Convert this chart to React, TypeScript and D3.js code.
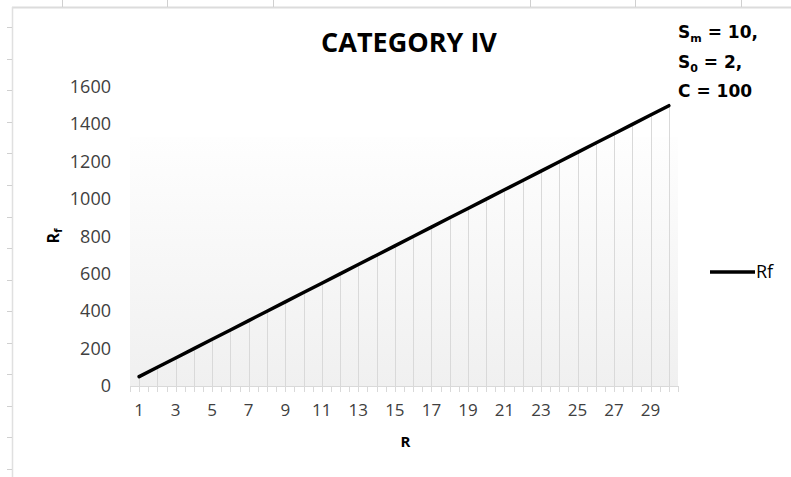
import React from "react";
import * as d3 from "d3";

const categories: number[] = [1, 2, 3, 4, 5, 6, 7, 8, 9, 10, 11, 12, 13, 14, 15, 16, 17, 18, 19, 20, 21, 22, 23, 24, 25, 26, 27, 28, 29, 30];
const rfValues: number[] = [50, 100, 150, 200, 250, 300, 350, 400, 450, 500, 550, 600, 650, 700, 750, 800, 850, 900, 950, 1000, 1050, 1100, 1150, 1200, 1250, 1300, 1350, 1400, 1450, 1500];
const yTicks: number[] = [0, 200, 400, 600, 800, 1000, 1200, 1400, 1600];
const xTickLabels: number[] = [1, 3, 5, 7, 9, 11, 13, 15, 17, 19, 21, 23, 25, 27, 29];
const sheetColTicks: number[] = [62, 167, 273, 530, 635, 741];
const sheetRowTicks: number[] = [27, 59, 90, 122, 153, 185, 217, 248, 280, 311, 343, 374, 406, 437, 469];

const W = 791;
const H = 477;
const plotLeft = 130;
const plotRight = 678;
const plotBottom = 386;
const plotTop = 87;

export default function App() {
  const x = d3.scaleBand<number>().domain(categories).range([plotLeft, plotRight]).padding(0);
  const y = d3.scaleLinear().domain([0, 1600]).range([plotBottom, plotTop]);
  const cx = (c: number) => (x(c) as number) + x.bandwidth() / 2;
  const line = d3
    .line<number>()
    .x((_, i) => cx(categories[i]))
    .y((d) => y(d));

  const halfTicks: number[] = [];
  categories.forEach((c) => {
    halfTicks.push(x(c) as number);
    halfTicks.push(cx(c));
  });
  halfTicks.push(plotRight);

  const sans = "'Open Sans', 'Noto Sans', sans-serif";

  return (
    <svg
      width={W}
      height={H}
      style={{ position: "absolute", left: 0, top: 0, background: "#fff" }}
    >
      <defs>
        <linearGradient id="pa" x1="0" y1="0" x2="0" y2="1">
          <stop offset="0" stopColor="#fefefe" />
          <stop offset="1" stopColor="#f0f0f0" />
        </linearGradient>
      </defs>
      {/* sheet frame */}
      <line x1={12} y1={7.5} x2={W} y2={7.5} stroke="#dcdcdc" strokeWidth={2} />
      <line x1={12.5} y1={7} x2={12.5} y2={H} stroke="#e0e0e0" strokeWidth={1.5} />
      {sheetColTicks.map((t) => (
        <line key={"c" + t} x1={t + 0.5} y1={0} x2={t + 0.5} y2={7} stroke="#d0d0d0" />
      ))}
      {sheetRowTicks.map((t) => (
        <line key={"r" + t} x1={7} y1={t + 0.5} x2={12} y2={t + 0.5} stroke="#d0d0d0" />
      ))}

      {/* plot area */}
      <rect x={plotLeft} y={137} width={plotRight - plotLeft} height={plotBottom - 137} fill="url(#pa)" />

      {/* drop lines */}
      {categories.map((c, i) => (
        <line
          key={"d" + c}
          x1={Math.round(cx(c)) + 0.5}
          x2={Math.round(cx(c)) + 0.5}
          y1={y(rfValues[i])}
          y2={plotBottom}
          stroke="#d9d9d9"
          strokeWidth={1}
        />
      ))}

      {/* x axis */}
      <line x1={plotLeft} x2={plotRight} y1={plotBottom + 0.5} y2={plotBottom + 0.5} stroke="#d9d9d9" />
      {halfTicks.map((t, i) => (
        <line
          key={"t" + i}
          x1={Math.round(t) + 0.5}
          x2={Math.round(t) + 0.5}
          y1={plotBottom}
          y2={plotBottom + 6}
          stroke="#d9d9d9"
        />
      ))}
      {xTickLabels.map((c) => (
        <text
          key={"xl" + c}
          x={cx(c)}
          y={416}
          textAnchor="middle"
          fontFamily={sans}
          fontSize={17}
          fill="#404040"
        >
          {c}
        </text>
      ))}

      {/* y axis labels */}
      {yTicks.map((v) => (
        <text
          key={"yl" + v}
          x={111}
          y={y(v) + 6}
          textAnchor="end"
          fontFamily={sans}
          fontSize={18}
          fill="#404040"
        >
          {v}
        </text>
      ))}

      {/* series line */}
      <path d={line(rfValues) || ""} fill="none" stroke="#000" strokeWidth={3.5} strokeLinecap="round" strokeLinejoin="round" />

      {/* title */}
      <text x={409} y={52} textAnchor="middle" fontFamily={sans} fontWeight="bold" fontSize={27} fill="#000">
        CATEGORY IV
      </text>

      {/* annotation */}
      <g fontFamily="'DejaVu Sans', sans-serif" fontWeight="bold" fontSize={17} fill="#000">
        <text x={678} y={38}>
          S<tspan fontSize={11} dy={4}>m</tspan>
          <tspan dy={-4}> = 10,</tspan>
        </text>
        <text x={678} y={68}>
          S<tspan fontSize={11} dy={4}>0</tspan>
          <tspan dy={-4}> = 2,</tspan>
        </text>
        <text x={678} y={97}>C = 100</text>
      </g>

      {/* axis titles */}
      <text
        transform="translate(59,236) rotate(-90)"
        textAnchor="middle"
        fontFamily={sans}
        fontWeight="bold"
        fontSize={16}
        fill="#000"
      >
        R<tspan fontSize={11} dy={3}>f</tspan>
      </text>
      <text x={405.5} y={447} textAnchor="middle" fontFamily={sans} fontWeight="bold" fontSize={15} fill="#000">
        R
      </text>

      {/* legend */}
      <line x1={710} x2={755} y1={272} y2={272} stroke="#000" strokeWidth={3.5} />
      <text x={756} y={278} fontFamily={sans} fontSize={18} fill="#000">
        Rf
      </text>
    </svg>
  );
}
